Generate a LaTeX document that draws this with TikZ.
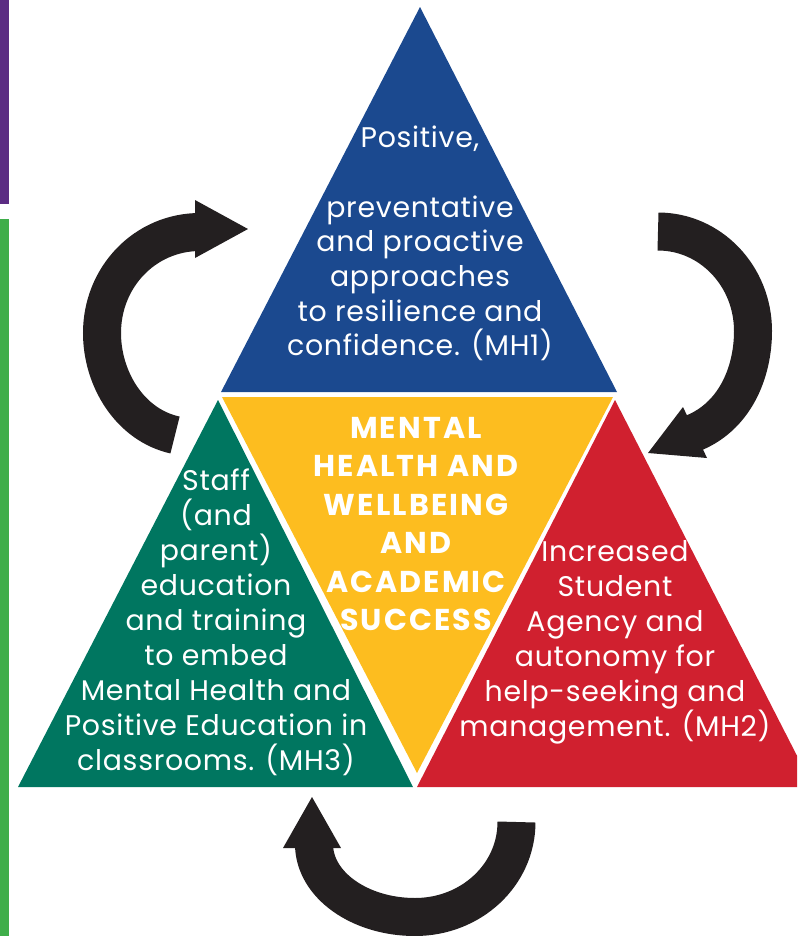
\documentclass[tikz,border=0pt]{standalone}
\usepackage{fontspec}
\setmainfont{Poppins}[LetterSpace=2.5]
\definecolor{mhblue}{RGB}{27,73,143}
\definecolor{mhyellow}{RGB}{253,189,31}
\definecolor{mhgreen}{RGB}{0,118,96}
\definecolor{mhred}{RGB}{208,32,47}
\definecolor{arrowblack}{RGB}{35,31,32}
\definecolor{barpurple}{RGB}{91,44,131}
\definecolor{bargreen}{RGB}{63,174,74}
\tikzset{
  bodytext/.style={text=white, font=\fontsize{21.3}{26.25}\selectfont, align=center, inner sep=0pt, anchor=north},
  centretext/.style={text=white, font=\bfseries\fontsize{22.6}{28.8}\selectfont\addfontfeatures{LetterSpace=7}, align=center, inner sep=0pt, anchor=north},
  cyclearrow/.style={draw=arrowblack, line width=28.5pt},
  cyclehead/.style={fill=arrowblack}
}
\begin{document}
\begin{tikzpicture}[x=0.75pt,y=-0.75pt]
\useasboundingbox (0,0) rectangle (797,936);
\clip (0,0) rectangle (797,936);
% side bars
\fill[barpurple] (0,0) rectangle (9,204);
\fill[bargreen] (0,219) rectangle (9,936);
% triangles
\fill[mhblue] (420,7) -- (617,392) -- (221,392) -- cycle;
\fill[mhyellow] (222,397) -- (613,397) -- (417,773) -- cycle;
\fill[mhgreen] (218,400) -- (413,787) -- (18,787) -- cycle;
\fill[mhred] (615,400) -- (813,787) -- (417,787) -- cycle;
% texts
\node[bodytext, font=\fontsize{21.3}{26}\selectfont] (mh1) at (420,126)
  {Positive,\\\mbox{}\\preventative\\and proactive\\approaches\\to resilience and\\confidence. (MH1)};
\node[bodytext] (mh3) at (216,469)
  {Staff\\(and\\parent)\\education\\and training\\to embed\\Mental Health and\\Positive Education in\\classrooms. (MH3)};
\node[bodytext] (mh2) at (615,540)
  {Increased\\Student\\Agency and\\autonomy for\\help-seeking and\\management. (MH2)};
\node[centretext] (core) at (416,417)
  {MENTAL\\HEALTH AND\\WELLBEING\\AND\\ACADEMIC\\SUCCESS};
% cycle arrows
\draw[cyclearrow] (175,435) .. controls (130,425) and (102,379) .. (102,333)
  .. controls (102,277) and (145,232) .. (200,232);
\fill[cyclehead] (195,200) -- (248,229) -- (195,258) -- cycle;
\draw[cyclearrow] (658,231.5) .. controls (710.5,231.5) and (753,276) .. (753,331)
  .. controls (753,373) and (734.5,417.7) .. (691,434);
\fill[cyclehead] (683,407) -- (648,453) -- (707,458) -- cycle;
\draw[cyclearrow] (516.5,822) .. controls (516.5,875) and (471,917) .. (415,917)
  .. controls (360,917) and (314,885) .. (314,844);
\fill[cyclehead] (283,848) -- (312,797) -- (341,848) -- cycle;
\end{tikzpicture}
\end{document}
